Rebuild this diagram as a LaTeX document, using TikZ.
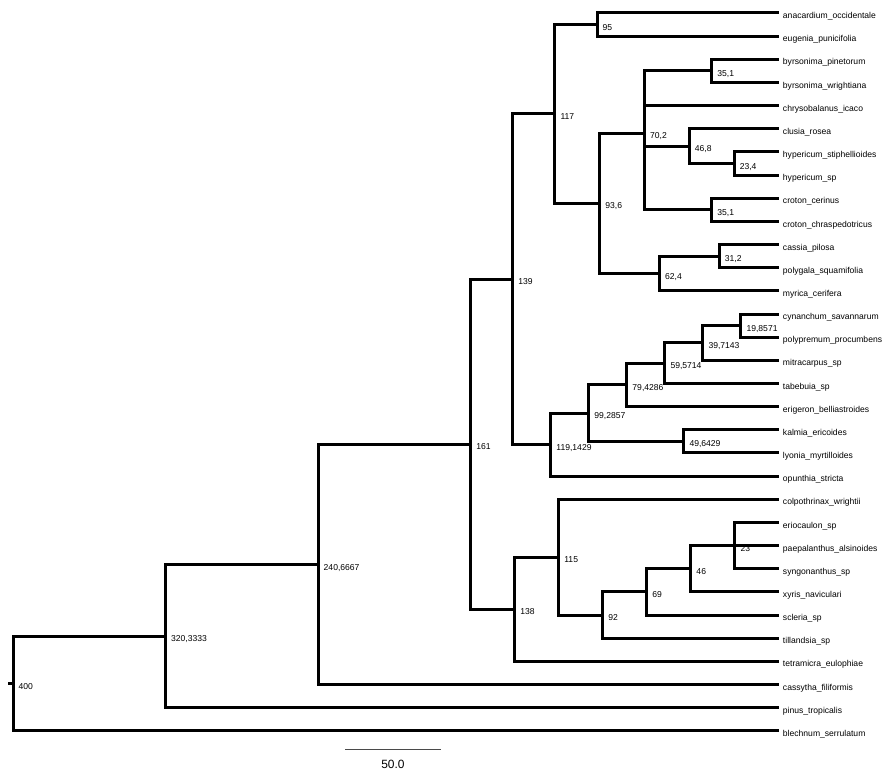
\documentclass[tikz,border=0pt]{standalone}
\usepackage{fontspec}
\setmainfont{Liberation Sans}
\usepackage{tikz}
\usetikzlibrary{calc}
\definecolor{bar-grey}{HTML}{4A4A4A}

\begin{document}
\begin{tikzpicture}[x=-0.047875cm, y=-0.579cm,
    tree-line/.style={line width=0.075cm},
    leaf/.style={anchor=west, inner sep=0pt, outer sep=0.1cm,
        font=\fontsize{6.1}{7}\selectfont, text height=0.8em, text depth=0pt},
    clade/.style={leaf, outer sep=0.14cm}]

    % frame (age runs to the left, leaf index runs down)
    \useasboundingbox (406.8,-0.561) rectangle (-58.5,32.815);

    % leaves
    \node[leaf] (anacardium) at (0,0) {anacardium\_occidentale};
    \node[leaf] (eugenia) at (0,1) {eugenia\_punicifolia};
    \node[leaf] (byrsonimap) at (0,2) {byrsonima\_pinetorum};
    \node[leaf] (byrsonimaw) at (0,3) {byrsonima\_wrightiana};
    \node[leaf] (chrysobalanus) at (0,4) {chrysobalanus\_icaco};
    \node[leaf] (clusia) at (0,5) {clusia\_rosea};
    \node[leaf] (hypericumst) at (0,6) {hypericum\_stiphellioides};
    \node[leaf] (hypericumsp) at (0,7) {hypericum\_sp};
    \node[leaf] (crotonce) at (0,8) {croton\_cerinus};
    \node[leaf] (crotonch) at (0,9) {croton\_chraspedotricus};
    \node[leaf] (cassia) at (0,10) {cassia\_pilosa};
    \node[leaf] (polygala) at (0,11) {polygala\_squamifolia};
    \node[leaf] (myrica) at (0,12) {myrica\_cerifera};
    \node[leaf] (cynanchum) at (0,13) {cynanchum\_savannarum};
    \node[leaf] (polypremum) at (0,14) {polypremum\_procumbens};
    \node[leaf] (mitracarpus) at (0,15) {mitracarpus\_sp};
    \node[leaf] (tabebuia) at (0,16) {tabebuia\_sp};
    \node[leaf] (erigeron) at (0,17) {erigeron\_belliastroides};
    \node[leaf] (kalmia) at (0,18) {kalmia\_ericoides};
    \node[leaf] (lyonia) at (0,19) {lyonia\_myrtilloides};
    \node[leaf] (opunthia) at (0,20) {opunthia\_stricta};
    \node[leaf] (colpothrinax) at (0,21) {colpothrinax\_wrightii};
    \node[leaf] (eriocaulon) at (0,22) {eriocaulon\_sp};
    \node[leaf] (paepalanthus) at (0,23) {paepalanthus\_alsinoides};
    \node[leaf] (syngonanthus) at (0,24) {syngonanthus\_sp};
    \node[leaf] (xyris) at (0,25) {xyris\_naviculari};
    \node[leaf] (scleria) at (0,26) {scleria\_sp};
    \node[leaf] (tillandsia) at (0,27) {tillandsia\_sp};
    \node[leaf] (tetramicra) at (0,28) {tetramicra\_eulophiae};
    \node[leaf] (cassytha) at (0,29) {cassytha\_filiformis};
    \node[leaf] (pinus) at (0,30) {pinus\_tropicalis};
    \node[leaf] (blechnum) at (0,31) {blechnum\_serrulatum};

    % internal nodes (x = age, y = mean of the children)
    \node[clade] (n95) at (95,0.5) {95};
    \node[clade] (n351a) at (35.1,2.5) {35,1};
    \node[clade] (n234) at (23.4,6.5) {23,4};
    \node[clade] (n468) at (46.8,5.75) {46,8};
    \node[clade] (n351b) at (35.1,8.5) {35,1};
    \node[clade] (n702) at (70.2,5.1875) {70,2};
    \node[clade] (n312) at (31.2,10.5) {31,2};
    \node[clade] (n624) at (62.4,11.25) {62,4};
    \node[clade] (n936) at (93.6,8.21875) {93,6};
    \node[clade] (n117) at (117,4.359375) {117};
    \node[clade] (n199) at (19.8571,13.5) {19,8571};
    \node[clade] (n397) at (39.7143,14.25) {39,7143};
    \node[clade] (n596) at (59.5714,15.125) {59,5714};
    \node[clade] (n794) at (79.4286,16.0625) {79,4286};
    \node[clade] (n496) at (49.6429,18.5) {49,6429};
    \node[clade] (n993) at (99.2857,17.28125) {99,2857};
    \node[clade] (n1191) at (119.1429,18.640625) {119,1429};
    \node[clade] (n139) at (139,11.5) {139};
    \node[clade] (n23) at (23,23) {23};
    \node[clade] (n46) at (46,24) {46};
    \node[clade] (n69) at (69,25) {69};
    \node[clade] (n92) at (92,26) {92};
    \node[clade] (n115) at (115,23.5) {115};
    \node[clade] (n138) at (138,25.75) {138};
    \node[clade] (n161) at (161,18.625) {161};
    \node[clade] (n2407) at (240.6667,23.8125) {240,6667};
    \node[clade] (n3203) at (320.3333,26.90625) {320,3333};
    \node[clade] (n400) at (400,28.953125) {400};
    \coordinate (stub) at (402.6,28.953125);

    % branches
    \draw[tree-line] (anacardium.west) -| (n95.west) |- (eugenia.west);
    \draw[tree-line] (byrsonimap.west) -| (n351a.west) |- (byrsonimaw.west);
    \draw[tree-line] (hypericumst.west) -| (n234.west) |- (hypericumsp.west);
    \draw[tree-line] (clusia.west) -| (n468.west) |- (n234.west);
    \draw[tree-line] (crotonce.west) -| (n351b.west) |- (crotonch.west);
    \draw[tree-line] (n351a.west) -| (n702.west) |- (n351b.west);
    \draw[tree-line] (n702.west |- chrysobalanus.west) -- (chrysobalanus.west);
    \draw[tree-line] (n702.west |- n468.west) -- (n468.west);
    \draw[tree-line] (cassia.west) -| (n312.west) |- (polygala.west);
    \draw[tree-line] (n312.west) -| (n624.west) |- (myrica.west);
    \draw[tree-line] (n702.west) -| (n936.west) |- (n624.west);
    \draw[tree-line] (n95.west) -| (n117.west) |- (n936.west);

    \draw[tree-line] (cynanchum.west) -| (n199.west) |- (polypremum.west);
    \draw[tree-line] (n199.west) -| (n397.west) |- (mitracarpus.west);
    \draw[tree-line] (n397.west) -| (n596.west) |- (tabebuia.west);
    \draw[tree-line] (n596.west) -| (n794.west) |- (erigeron.west);
    \draw[tree-line] (kalmia.west) -| (n496.west) |- (lyonia.west);
    \draw[tree-line] (n794.west) -| (n993.west) |- (n496.west);
    \draw[tree-line] (n993.west) -| (n1191.west) |- (opunthia.west);
    \draw[tree-line] (n117.west) -| (n139.west) |- (n1191.west);

    \draw[tree-line] (eriocaulon.west) -| (n23.west) |- (syngonanthus.west);
    \draw[tree-line] (n23.west |- paepalanthus.west) -- (paepalanthus.west);
    \draw[tree-line] (n23.west) -| (n46.west) |- (xyris.west);
    \draw[tree-line] (n46.west) -| (n69.west) |- (scleria.west);
    \draw[tree-line] (n69.west) -| (n92.west) |- (tillandsia.west);
    \draw[tree-line] (colpothrinax.west) -| (n115.west) |- (n92.west);
    \draw[tree-line] (n115.west) -| (n138.west) |- (tetramicra.west);

    \draw[tree-line] (n139.west) -| (n161.west) |- (n138.west);
    \draw[tree-line] (n161.west) -| (n2407.west) |- (cassytha.west);
    \draw[tree-line] (n2407.west) -| (n3203.west) |- (pinus.west);
    \draw[tree-line] (n3203.west) -| (n400.west) |- (blechnum.west);
    \draw[tree-line] (stub) -- (n400.west);

    % scale bar
    \coordinate (bar-l) at (226.6,31.82);
    \coordinate (bar-r) at (176.6,31.82);
    \draw[bar-grey, line width=0.03cm] (bar-l) -- (bar-r);
    \node[font=\fontsize{8.5}{10}\selectfont, inner sep=0pt] (bar-label) at (201.6,32.43) {50.0};

\end{tikzpicture}
\end{document}
